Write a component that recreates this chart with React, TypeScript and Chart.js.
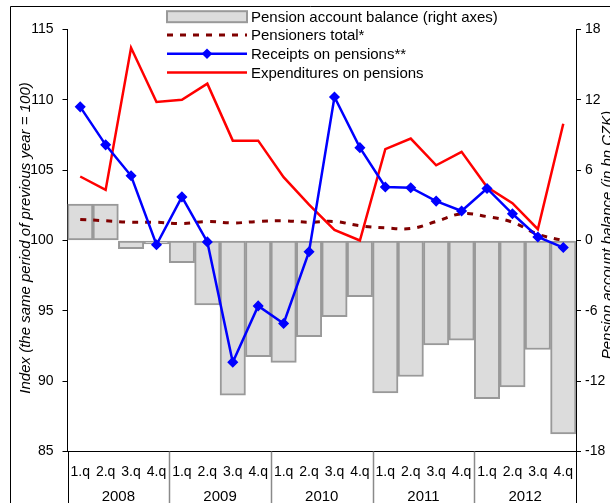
import React, { useEffect, useRef } from "react";
import { Chart, registerables } from "chart.js";

Chart.register(...registerables);

const quarters = [
  "1.q", "2.q", "3.q", "4.q",
  "1.q", "2.q", "3.q", "4.q",
  "1.q", "2.q", "3.q", "4.q",
  "1.q", "2.q", "3.q", "4.q",
  "1.q", "2.q", "3.q", "4.q",
];
const years = ["2008", "2009", "2010", "2011", "2012"];

const balance = [3.1, 3.1, -0.7, -0.3, -1.9, -5.5, -13.2, -9.9, -10.4, -8.2, -6.5, -4.8, -13.0, -11.6, -8.9, -8.5, -13.5, -12.5, -9.3, -16.5];
const pensioners = [101.5, 101.4, 101.3, 101.3, 101.2, 101.35, 101.25, 101.35, 101.4, 101.3, 101.35, 101.05, 100.9, 100.85, 101.35, 101.9, 101.7, 101.3, 100.45, 100.0];
const receipts = [109.5, 106.8, 104.6, 99.7, 103.1, 99.9, 91.35, 95.35, 94.1, 99.2, 110.2, 106.6, 103.8, 103.75, 102.8, 102.1, 103.7, 101.9, 100.25, 99.5];
const expenditures = [104.55, 103.6, 113.7, 109.85, 110.0, 111.15, 107.1, 107.1, 104.5, 102.55, 100.75, 100.0, 106.5, 107.25, 105.35, 106.3, 103.8, 102.65, 100.8, 108.3];

const leftTitle = "Index (the same period of previous year = 100)";
const rightTitle = "Pension account balance (in bn CZK)";

const FONT = "'Liberation Sans', Arial, sans-serif";

const decorPlugin = {
  id: "decor",
  afterDraw(chart: any) {
    const ctx = chart.ctx as CanvasRenderingContext2D;
    const x = chart.scales.x;
    const area = chart.chartArea;
    const H = chart.height;
    const W = chart.width;
    ctx.save();
    // outer frame
    ctx.strokeStyle = "#000";
    ctx.lineWidth = 1;
    ctx.beginPath();
    ctx.moveTo(10.5, H);
    ctx.lineTo(10.5, 6.5);
    ctx.lineTo(W, 6.5);
    ctx.stroke();

    // year separators
    for (let i = 0; i <= quarters.length; i += 4) {
      const px = Math.round(x.getPixelForValue(i - 0.5)) + 0.5;
      const edge = i === 0 || i === quarters.length;
      ctx.strokeStyle = edge ? "#000" : "#8a8a8a";
      ctx.lineWidth = edge ? 1 : 1.5;
      ctx.beginPath();
      ctx.moveTo(px, area.bottom);
      ctx.lineTo(px, H);
      ctx.stroke();
    }

    // year labels
    ctx.fillStyle = "#000";
    ctx.font = `15px ${FONT}`;
    ctx.textAlign = "center";
    ctx.textBaseline = "middle";
    years.forEach((yr, j) => {
      const cx = (x.getPixelForValue(4 * j) + x.getPixelForValue(4 * j + 3)) / 2;
      ctx.fillText(yr, cx, 497);
    });

    // axis titles
    ctx.font = `italic 15px ${FONT}`;
    ctx.save();
    ctx.translate(26, 238);
    ctx.rotate(-Math.PI / 2);
    ctx.fillText(leftTitle, 0, 0);
    ctx.restore();
    ctx.save();
    ctx.translate(608, 235);
    ctx.rotate(-Math.PI / 2);
    ctx.fillText(rightTitle, 0, 0);
    ctx.restore();

    // legend
    const ds = chart.data.datasets;
    const rows = [16.7, 35, 53.8, 72.6];
    const sx0 = 167;
    const sx1 = 247;
    ctx.font = `15px ${FONT}`;
    ctx.textAlign = "left";
    ds.forEach((d: any, k: number) => {
      const y = rows[k];
      if (d.type === "bar") {
        ctx.fillStyle = d.backgroundColor;
        ctx.strokeStyle = d.borderColor;
        ctx.lineWidth = 2;
        ctx.fillRect(sx0, y - 5.5, sx1 - sx0, 11);
        ctx.strokeRect(sx0, y - 5.5, sx1 - sx0, 11);
      } else {
        ctx.strokeStyle = d.borderColor;
        ctx.lineWidth = d.borderWidth;
        ctx.setLineDash(d.borderDash || []);
        ctx.beginPath();
        ctx.moveTo(sx0, y);
        ctx.lineTo(sx1, y);
        ctx.stroke();
        ctx.setLineDash([]);
        if (d.pointRadius > 0) {
          const r = d.pointRadius + 0.8;
          const cx = (sx0 + sx1) / 2;
          ctx.fillStyle = d.pointBackgroundColor;
          ctx.beginPath();
          ctx.moveTo(cx, y - r);
          ctx.lineTo(cx + r, y);
          ctx.lineTo(cx, y + r);
          ctx.lineTo(cx - r, y);
          ctx.closePath();
          ctx.fill();
        }
      }
      ctx.fillStyle = "#000";
      ctx.textBaseline = "middle";
      ctx.fillText(d.label, 251, y + 1);
    });
    ctx.restore();
  },
};

export default function App() {
  const ref = useRef<HTMLCanvasElement | null>(null);
  useEffect(() => {
    if (!ref.current) return;
    const chart = new Chart(ref.current, {
      type: "bar",
      data: {
        labels: quarters,
        datasets: [
          {
            type: "bar",
            label: "Pension account balance (right axes)",
            data: balance,
            yAxisID: "y2",
            backgroundColor: "#dcdcdc",
            borderColor: "#999999",
            borderWidth: 2,
            borderSkipped: false,
            barPercentage: 1,
            categoryPercentage: 1,
            order: 4,
          } as any,
          {
            type: "line",
            label: "Pensioners total*",
            data: pensioners,
            yAxisID: "y",
            borderColor: "#800000",
            borderWidth: 3,
            borderDash: [6, 7],
            pointRadius: 0,
            tension: 0.4,
            order: 3,
          } as any,
          {
            type: "line",
            label: "Receipts on pensions**",
            data: receipts,
            yAxisID: "y",
            borderColor: "#0000ff",
            borderWidth: 2.5,
            pointStyle: "rectRot",
            pointRadius: 4.5,
            pointBorderWidth: 1.5,
            pointBackgroundColor: "#0000ff",
            pointBorderColor: "#0000ff",
            tension: 0,
            order: 1,
          } as any,
          {
            type: "line",
            label: "Expenditures on pensions",
            data: expenditures,
            yAxisID: "y",
            borderColor: "#ff0000",
            borderWidth: 2.5,
            pointRadius: 0,
            tension: 0,
            order: 2,
          } as any,
        ],
      },
      options: {
        animation: false,
        responsive: false,
        maintainAspectRatio: false,
        layout: { padding: { top: 29.5, left: 0, right: 0, bottom: 0 } },
        plugins: { legend: { display: false }, tooltip: { enabled: false } },
        scales: {
          x: {
            type: "category",
            offset: true,
            grid: { display: false },
            border: { display: true, color: "#000", width: 1 },
            ticks: {
              color: "#000",
              font: { family: FONT, size: 14 },
              padding: 4,
              maxRotation: 0,
              autoSkip: false,
            },
            afterFit: (s: any) => {
              s.height = 51.5;
            },
          },
          y: {
            position: "left",
            min: 85,
            max: 115,
            ticks: {
              stepSize: 5,
              color: "#000",
              font: { family: FONT, size: 14 },
              padding: 9,
            },
            grid: { drawOnChartArea: false, tickLength: 5, color: "#000" },
            border: { display: true, color: "#000", width: 1 },
            afterFit: (s: any) => {
              s.width = 67.5;
            },
          },
          y2: {
            position: "right",
            min: -18,
            max: 18,
            ticks: {
              stepSize: 6,
              color: "#000",
              font: { family: FONT, size: 14 },
              padding: 4,
            },
            grid: { drawOnChartArea: false, tickLength: 5, color: "#000" },
            border: { display: true, color: "#000", width: 1 },
            afterFit: (s: any) => {
              s.width = 34;
            },
          },
        },
      },
      plugins: [decorPlugin],
    });
    return () => chart.destroy();
  }, []);
  return (
    <div style={{ position: "fixed", left: 0, top: 0, width: 610, height: 503, background: "#fff" }}>
      <canvas ref={ref} width={610} height={503} style={{ display: "block", width: 610, height: 503 }} />
    </div>
  );
}
